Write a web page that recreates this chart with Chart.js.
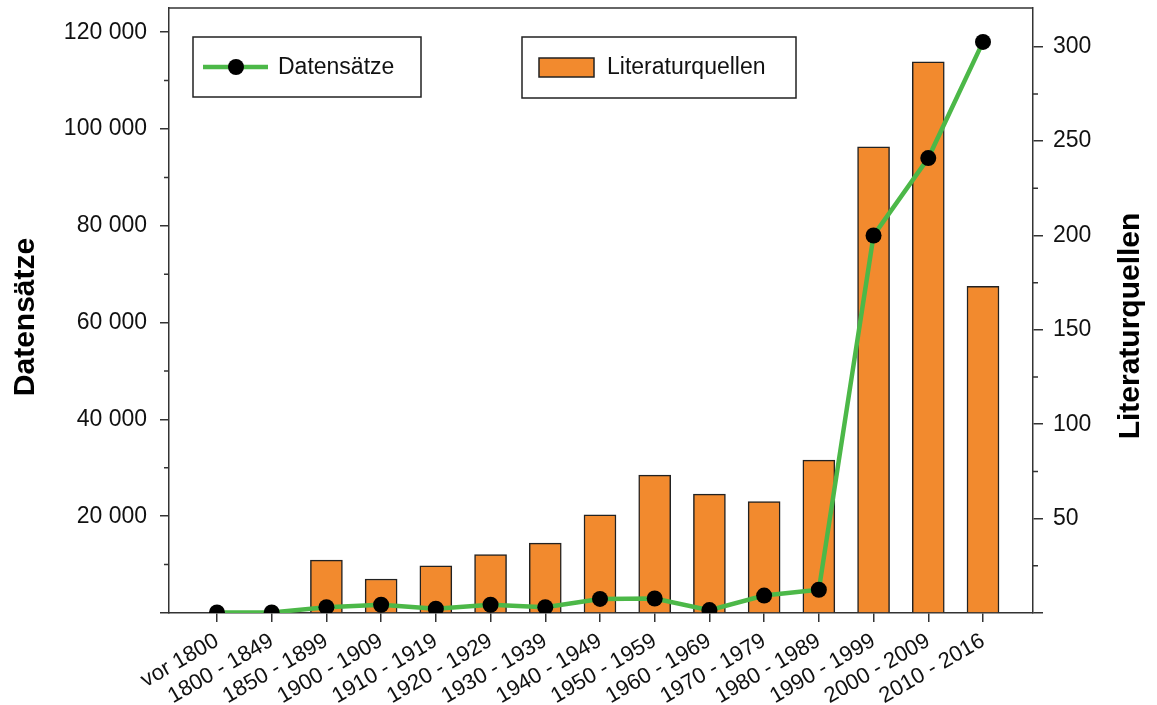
<!DOCTYPE html>
<html>
<head>
<meta charset="utf-8">
<title>Datensätze und Literaturquellen</title>
<script src="https://cdn.jsdelivr.net/npm/chart.js@4/dist/chart.umd.min.js"></script>
<style>
    body { margin: 0; background: #ffffff; }
    canvas { display: block; }
</style>
</head>
<body>
<canvas id="chart" width="1157" height="705"></canvas>
<script>
// Zeitabschnitte (x axis)
const categories = [
    'vor 1800', '1800 - 1849', '1850 - 1899', '1900 - 1909', '1910 - 1919',
    '1920 - 1929', '1930 - 1939', '1940 - 1949', '1950 - 1959', '1960 - 1969',
    '1970 - 1979', '1980 - 1989', '1990 - 1999', '2000 - 2009', '2010 - 2016'
];

// Datensätze (line, left axis)
const datensaetze = [100, 100, 1200, 1700, 900, 1700, 1200, 2900, 3000, 600, 3600, 4800, 78000, 94000, 118000];

// Literaturquellen (bars, right axis)
const literaturquellen = [0, 0, 28, 18, 25, 31, 37, 52, 73, 63, 59, 81, 247, 292, 173];

// Tick values shown on the two y axes
const leftTicks = [0, 20000, 40000, 60000, 80000, 100000, 120000];
const rightTicks = [0, 50, 100, 150, 200, 250, 300];

const FONT = "'Liberation Sans', Arial, sans-serif";
const AXIS = '#333333';
const GREEN = '#4cb848';
const ORANGE = '#f28a2e';

// thousands with a space, like "120 000"
function formatThousands(v) {
    if (v === 0) return '';
    return String(v).replace(/\B(?=(\d{3})+(?!\d))/g, ' ');
}

// fixed scale sizes, no extra padding for overflowing labels
function fixSize(w, h) {
    return s => {
        if (w !== null) s.width = w;
        if (h !== null) s.height = h;
        s.paddingTop = 0;
        s.paddingBottom = 0;
        s.paddingLeft = 0;
        s.paddingRight = 0;
    };
}

// frame, minor ticks, right axis title and the two legend boxes
const extras = {
    id: 'extras',
    afterDraw(chart) {
        const ctx = chart.ctx;
        const area = chart.chartArea;
        const yL = chart.scales.y;
        const yR = chart.scales.y2;

        ctx.save();
        ctx.strokeStyle = AXIS;
        ctx.lineWidth = 1.5;

        // top edge of the frame
        ctx.beginPath();
        ctx.moveTo(area.left, area.top);
        ctx.lineTo(area.right, area.top);
        ctx.stroke();

        // minor ticks halfway between the labelled ones
        ctx.beginPath();
        for (let i = 0; i < leftTicks.length; i++) {
            const v = leftTicks[i] + 10000;
            if (v > yL.max) break;
            const py = yL.getPixelForValue(v);
            ctx.moveTo(area.left - 5, py);
            ctx.lineTo(area.left, py);
        }
        for (let i = 0; i < rightTicks.length; i++) {
            const v = rightTicks[i] + 25;
            if (v > yR.max) break;
            const py = yR.getPixelForValue(v);
            ctx.moveTo(area.right, py);
            ctx.lineTo(area.right + 5, py);
        }
        ctx.stroke();

        // axis titles, both read from bottom to top
        ctx.fillStyle = '#000';
        ctx.font = 'bold 30px ' + FONT;
        ctx.textAlign = 'center';
        ctx.textBaseline = 'middle';
        ctx.save();
        ctx.translate(26, 317);
        ctx.rotate(-Math.PI / 2);
        ctx.fillText('Datensätze', 0, 0);
        ctx.restore();
        ctx.translate(1131, 326);
        ctx.rotate(-Math.PI / 2);
        ctx.fillText('Literaturquellen', 0, 0);
        ctx.restore();

        // legend boxes
        const line = chart.data.datasets[0];
        const bars = chart.data.datasets[1];
        ctx.save();
        ctx.fillStyle = '#fff';
        ctx.strokeStyle = '#222';
        ctx.lineWidth = 1.5;
        ctx.fillRect(193, 37, 228, 60);
        ctx.strokeRect(193, 37, 228, 60);
        ctx.fillRect(522, 37, 274, 61);
        ctx.strokeRect(522, 37, 274, 61);

        // Datensätze sample
        ctx.strokeStyle = line.borderColor;
        ctx.lineWidth = line.borderWidth;
        ctx.beginPath();
        ctx.moveTo(203, 67);
        ctx.lineTo(268, 67);
        ctx.stroke();
        ctx.fillStyle = line.pointBackgroundColor;
        ctx.beginPath();
        ctx.arc(236, 67, line.pointRadius, 0, Math.PI * 2);
        ctx.fill();

        // Literaturquellen sample
        ctx.fillStyle = bars.backgroundColor;
        ctx.fillRect(539, 58, 55, 19);
        ctx.strokeStyle = bars.borderColor;
        ctx.lineWidth = 1.5;
        ctx.strokeRect(539, 58, 55, 19);

        ctx.fillStyle = '#111';
        ctx.font = '23px ' + FONT;
        ctx.textAlign = 'left';
        ctx.textBaseline = 'middle';
        ctx.fillText(line.label, 278, 68);
        ctx.fillText(bars.label, 607, 68);
        ctx.restore();
    }
};

const ctx = document.getElementById('chart').getContext('2d');

const chart = new Chart(ctx, {
    data: {
        datasets: [{
            type: 'line',
            label: 'Datensätze',
            data: datensaetze.map((v, i) => ({ x: i, y: v })),
            yAxisID: 'y',
            borderColor: GREEN,
            borderWidth: 4.5,
            tension: 0,
            pointRadius: 8,
            pointBackgroundColor: '#000',
            pointBorderWidth: 0,
            order: 1
        }, {
            type: 'bar',
            label: 'Literaturquellen',
            data: literaturquellen.map((v, i) => ({ x: i, y: v })),
            yAxisID: 'y2',
            backgroundColor: ORANGE,
            borderColor: '#222',
            borderWidth: 1.5,
            barThickness: 32,
            order: 2
        }]
    },
    options: {
        responsive: false,
        devicePixelRatio: 1,
        animation: false,
        layout: {
            autoPadding: false,
            padding: { top: 8, left: 0, right: 0, bottom: 0 }
        },
        plugins: {
            legend: { display: false },
            tooltip: { enabled: false }
        },
        scales: {
            x: {
                type: 'linear',
                offset: false,
                min: -0.877,
                max: 14.914,
                afterBuildTicks: s => { s.ticks = categories.map((c, i) => ({ value: i })); },
                afterFit: fixSize(null, 92),
                grid: { offset: false, drawOnChartArea: false, tickLength: 9, color: AXIS, lineWidth: 1.5 },
                border: { color: AXIS, width: 1.5 },
                ticks: {
                    autoSkip: false,
                    minRotation: 30,
                    maxRotation: 30,
                    padding: 6,
                    color: '#111',
                    font: { family: FONT, size: 22 },
                    callback: v => categories[v]
                }
            },
            y: {
                position: 'left',
                min: 0,
                max: 125000,
                afterBuildTicks: s => { s.ticks = leftTicks.map(v => ({ value: v })); },
                afterFit: fixSize(169, null),
                grid: { drawOnChartArea: false, tickLength: 9, color: AXIS, lineWidth: 1.5 },
                border: { color: AXIS, width: 1.5 },
                ticks: {
                    padding: 13,
                    color: '#111',
                    font: { family: FONT, size: 23 },
                    callback: v => formatThousands(v)
                }
            },
            y2: {
                position: 'right',
                min: 0,
                max: 320.5,
                afterBuildTicks: s => { s.ticks = rightTicks.map(v => ({ value: v })); },
                afterFit: fixSize(124, null),
                grid: { drawOnChartArea: false, tickLength: 10, color: AXIS, lineWidth: 1.5 },
                border: { color: AXIS, width: 1.5 },
                ticks: {
                    padding: 10,
                    color: '#111',
                    font: { family: FONT, size: 23 },
                    callback: v => (v === 0 ? '' : v)
                }
            }
        }
    },
    plugins: [extras]
});
</script>
</body>
</html>
